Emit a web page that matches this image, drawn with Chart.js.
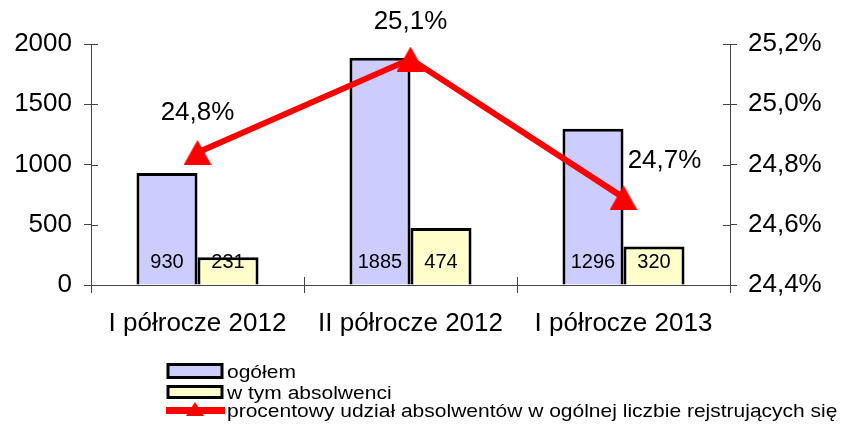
<!DOCTYPE html>
<html>
<head>
<meta charset="utf-8">
<script src="https://cdn.jsdelivr.net/npm/chart.js@4"></script>
<style>
  html, body { margin: 0; padding: 0; background: #fff; }
  #wrap { width: 848px; height: 425px; }
</style>
</head>
<body>
<div id="wrap"><canvas id="chart" width="848" height="425"></canvas></div>
<script>
const categories = ['I półrocze 2012', 'II półrocze 2012', 'I półrocze 2013'];
const ogolem = [930, 1885, 1296];
const absolwenci = [231, 474, 320];
const udzial = [24.84, 25.15, 24.69];
const seriesNames = ['ogółem', 'w tym absolwenci', 'procentowy udział absolwentów w ogólnej liczbie rejstrujących się'];

const FONT = '"Liberation Sans", Arial, sans-serif';
const fmtPct = v => v.toFixed(1).replace('.', ',') + '%';

// przesunięcia etykiet procentowych wzgledem punktów
const pctLabelOffsets = [[0, -40], [0, -37], [41, -37]];

// trójkąt wyśrodkowany w ramce jak w Excelu
function makeTriangle(w, h, color) {
    const c = document.createElement('canvas');
    c.width = w; c.height = h;
    const g = c.getContext('2d');
    g.fillStyle = color;
    g.beginPath();
    g.moveTo(w / 2, 0);
    g.lineTo(w, h);
    g.lineTo(0, h);
    g.closePath();
    g.fill();
    return c;
}
const triMarker = makeTriangle(28, 25, '#FF0000');

const crossTicks = {
    id: 'crossTicks',
    afterDraw(chart) {
        const { ctx, chartArea: { left, right, bottom }, scales: { x, y, y1 } } = chart;
        ctx.save();
        ctx.strokeStyle = '#444';
        ctx.lineWidth = 1;
        ctx.beginPath();
        y.ticks.forEach(t => {
            const py = Math.round(y.getPixelForValue(t.value)) + 0.5;
            ctx.moveTo(left, py); ctx.lineTo(left + 7, py);
        });
        y1.ticks.forEach(t => {
            const py = Math.round(y1.getPixelForValue(t.value)) + 0.5;
            ctx.moveTo(right - 7, py); ctx.lineTo(right, py);
        });
        for (let i = 0; i < categories.length - 1; i++) {
            const px = Math.round((x.getPixelForValue(i) + x.getPixelForValue(i + 1)) / 2) + 0.5;
            ctx.moveTo(px, bottom - 8); ctx.lineTo(px, bottom);
        }
        ctx.stroke();
        ctx.restore();
    }
};

const valueLabels = {
    id: 'valueLabels',
    afterDatasetsDraw(chart) {
        const { ctx, scales: { y } } = chart;
        ctx.save();
        ctx.fillStyle = '#000';
        ctx.textAlign = 'center';
        ctx.textBaseline = 'middle';
        ctx.font = '20px ' + FONT;
        [0, 1].forEach(di => {
            chart.getDatasetMeta(di).data.forEach((bar, i) => {
                ctx.fillText(String(chart.data.datasets[di].data[i]), bar.x, y.getPixelForValue(0) - 23);
            });
        });
        ctx.font = '26px ' + FONT;
        chart.getDatasetMeta(2).data.forEach((pt, i) => {
            const off = pctLabelOffsets[i];
            ctx.fillText(fmtPct(udzial[i]), pt.x + off[0], pt.y + off[1]);
        });
        ctx.restore();
    }
};

const customLegend = {
    id: 'customLegend',
    afterDraw(chart) {
        const ctx = chart.ctx;
        const ds = chart.data.datasets;
        const x0 = 168, boxW = 54;
        const rows = [371, 392, 410];
        ctx.save();
        [0, 1].forEach(i => {
            const yy = rows[i];
            const h = i === 0 ? 13 : 11;
            ctx.fillStyle = ds[i].backgroundColor;
            ctx.fillRect(x0, yy - h / 2, boxW, h);
            ctx.strokeStyle = '#000';
            ctx.lineWidth = 3;
            ctx.strokeRect(x0, yy - h / 2, boxW, h);
        });
        // linia z trójkątem
        const ly = rows[2];
        ctx.fillStyle = ds[2].borderColor;
        ctx.fillRect(x0 - 2, ly - 3, boxW + 5, 7);
        ctx.drawImage(makeTriangle(18, 14, ds[2].borderColor), x0 + boxW / 2 - 9, ly - 8);
        ctx.fillStyle = '#000';
        ctx.font = '21px ' + FONT;
        ctx.textBaseline = 'alphabetic';
        rows.forEach((yy, i) => {
            ctx.save();
            ctx.translate(227, yy + 7);
            ctx.scale(1, 0.88);
            ctx.fillText(ds[i].label, 0, 0);
            ctx.restore();
        });
        ctx.restore();
    }
};

const tickFont = { family: FONT, size: 26 };

new Chart(document.getElementById('chart'), {
    type: 'bar',
    data: {
        labels: categories,
        datasets: [
            {
                label: seriesNames[0],
                data: ogolem,
                backgroundColor: '#CCCCFF',
                borderColor: '#000',
                borderWidth: 3,
                yAxisID: 'y',
                order: 2,
                categoryPercentage: 0.573,
                barPercentage: 1.0
            },
            {
                label: seriesNames[1],
                data: absolwenci,
                backgroundColor: '#FFFFCC',
                borderColor: '#000',
                borderWidth: 3,
                yAxisID: 'y',
                order: 2,
                categoryPercentage: 0.573,
                barPercentage: 1.0
            },
            {
                type: 'line',
                label: seriesNames[2],
                data: udzial,
                borderColor: '#FF0000',
                backgroundColor: '#FF0000',
                borderWidth: 6,
                pointStyle: triMarker,
                pointRadius: 14,
                pointBorderWidth: 0,
                tension: 0,
                yAxisID: 'y1',
                order: 0
            }
        ]
    },
    options: {
        responsive: false,
        animation: false,
        layout: { padding: { top: 44, right: 0, left: 0, bottom: 0 } },
        plugins: {
            legend: { display: false },
            tooltip: { enabled: false }
        },
        scales: {
            x: {
                grid: { display: true, drawOnChartArea: false, tickLength: 8, color: '#444', offset: true },
                border: { color: '#444' },
                ticks: { color: '#000', font: tickFont, padding: 15 },
                afterFit(s) { s.height = 140; }
            },
            y: {
                position: 'left',
                min: 0,
                max: 2000,
                grid: { display: true, drawOnChartArea: false, tickLength: 7, color: '#444' },
                border: { color: '#444' },
                ticks: { stepSize: 500, color: '#000', font: tickFont, padding: 12, callback: v => String(v) },
                afterFit(s) { s.width = 91; }
            },
            y1: {
                position: 'right',
                min: 24.4,
                max: 25.2,
                grid: { display: true, drawOnChartArea: false, tickLength: 7, color: '#444' },
                border: { color: '#444' },
                ticks: { stepSize: 0.2, color: '#000', font: tickFont, padding: 11, callback: v => fmtPct(v) },
                afterFit(s) { s.width = 118; }
            }
        }
    },
    plugins: [crossTicks, valueLabels, customLegend]
});
</script>
</body>
</html>
